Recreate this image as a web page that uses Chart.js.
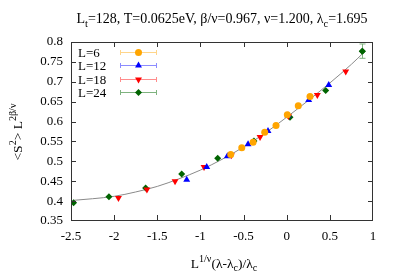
<!DOCTYPE html>
<html><head><meta charset="utf-8">
<script src="https://cdn.jsdelivr.net/npm/chart.js@4"></script>
<style>html,body{margin:0;padding:0;background:#fff}#w{width:399px;height:279px}</style>
</head><body><div id="w"><canvas id="c" width="399" height="279"></canvas></div>
<script>
const L6x = [-0.649,-0.521,-0.390,-0.255,-0.124,0.007,0.134,0.270];
const L6y = [0.517,0.534,0.548,0.573,0.590,0.617,0.640,0.663];
const L12x = [-1.159,-0.927,-0.688,-0.448,-0.217,0.015,0.255,0.487];
const L12y = [0.454,0.486,0.513,0.543,0.576,0.615,0.654,0.692];
const L18x = [-1.950,-1.620,-1.294,-0.958,-0.642,-0.309,0.020,0.355,0.684];
const L18y = [0.408,0.429,0.450,0.486,0.515,0.561,0.614,0.667,0.726];
const L24x = [-2.470,-2.060,-1.635,-1.217,-0.800,-0.380,0.038,0.452,0.876];
const L24y = [0.396,0.411,0.433,0.468,0.508,0.551,0.611,0.678,0.777];
const L24err = [0,0,0,0,0,0,0,0,0.018];
const fitX = [-2.47,-2.25,-2.0,-1.75,-1.5,-1.25,-1.0,-0.75,-0.5,-0.25,0,0.25,0.5,0.75,0.9];
const fitY = [0.402,0.406,0.412,0.423,0.437,0.456,0.478,0.505,0.536,0.571,0.611,0.653,0.697,0.744,0.775];
const xTicks = [-2.5,-2,-1.5,-1,-0.5,0,0.5,1];
const yTicks = [0.35,0.4,0.45,0.5,0.55,0.6,0.65,0.7,0.75,0.8];
const seriesNames = ['L=6','L=12','L=18','L=24'];

const FONT = '"Liberation Serif", "DejaVu Serif", serif';
const zip = (xs, ys) => xs.map((x, i) => ({x, y: ys[i]}));

const series = [
  {label: seriesNames[0], data: zip(L6x, L6y), color: '#ffa500', light: '#ffd58a', style: 'circle', r: 3.5, rot: 0},
  {label: seriesNames[1], data: zip(L12x, L12y), color: '#0000ff', light: '#8c8cff', style: 'triangle', r: 4, rot: 0},
  {label: seriesNames[2], data: zip(L18x, L18y), color: '#ff0000', light: '#ff8c8c', style: 'triangle', r: 4, rot: 180},
  {label: seriesNames[3], data: zip(L24x, L24y), color: '#006400', light: '#7fb37f', style: 'rectRot', r: 3.5, rot: 0, err: L24err},
];

function drawRich(ctx, parts, x, y, size, align) {
  const meas = parts.map(([t, m]) => {
    const fs = m ? size * 0.75 : size;
    ctx.font = fs + 'px ' + FONT;
    return ctx.measureText(t).width;
  });
  const total = meas.reduce((a, b) => a + b, 0);
  let cx = align === 'center' ? x - total / 2 : x;
  parts.forEach(([t, m], i) => {
    const fs = m ? size * 0.75 : size;
    ctx.font = fs + 'px ' + FONT;
    const dy = m === 'sup' ? -size * 0.42 : m === 'sub' ? size * 0.25 : 0;
    ctx.fillText(t, cx, y + dy);
    cx += meas[i];
  });
}

const deco = {
  id: 'deco',
  afterDraw(chart) {
    const {ctx, chartArea: a, scales: {x, y}} = chart;
    ctx.save();
    series.forEach((s) => {
      if (!s.err) return;
      ctx.strokeStyle = s.light; ctx.lineWidth = 1;
      s.data.forEach((p, i) => {
        const e = s.err[i]; if (!e) return;
        const px = Math.round(x.getPixelForValue(p.x)) + 0.5;
        const y1 = y.getPixelForValue(p.y - e), y2 = y.getPixelForValue(p.y + e);
        ctx.beginPath();
        ctx.moveTo(px, y1); ctx.lineTo(px, y2);
        ctx.moveTo(px - 3, y1); ctx.lineTo(px + 3, y1);
        ctx.moveTo(px - 3, y2); ctx.lineTo(px + 3, y2);
        ctx.stroke();
      });
      ctx.fillStyle = s.color;
      s.data.forEach((p, i) => {
        if (!s.err[i]) return;
        Chart.helpers.drawPoint(ctx, {pointStyle: s.style, radius: s.r, rotation: s.rot, borderWidth: 0},
          x.getPixelForValue(p.x), y.getPixelForValue(p.y));
      });
    });
    // frame
    const L = Math.round(a.left), R = Math.round(a.right) - 1, T = Math.round(a.top), B = Math.round(a.bottom) - 1;
    ctx.fillStyle = '#333';
    ctx.fillRect(L, T, R - L + 1, 1);
    ctx.fillRect(L, B, R - L + 1, 1);
    ctx.fillRect(L, T, 1, B - T + 1);
    ctx.fillRect(R, T, 1, B - T + 1);
    x.ticks.forEach(t => {
      const px = Math.round(x.getPixelForValue(t.value));
      const cx = Math.min(Math.max(px, L), R);
      ctx.fillRect(cx, B - 5, 1, 5);
      ctx.fillRect(cx, T, 1, 5);
    });
    y.ticks.forEach(t => {
      const py = Math.round(y.getPixelForValue(t.value));
      const cy = Math.min(Math.max(py, T), B);
      ctx.fillRect(L, cy, 5, 1);
      ctx.fillRect(R - 4, cy, 5, 1);
    });
    // legend
    ctx.textBaseline = 'middle'; ctx.textAlign = 'left';
    series.forEach((s, i) => {
      const ly = Math.round(52 + i * 13.3) + 0.5;
      ctx.font = '13px ' + FONT;
      ctx.fillStyle = '#000';
      ctx.fillText(s.label, 78, ly + 1);
      ctx.strokeStyle = s.light; ctx.lineWidth = 1;
      ctx.beginPath();
      ctx.moveTo(120, ly); ctx.lineTo(157, ly);
      ctx.moveTo(120.5, ly - 2.5); ctx.lineTo(120.5, ly + 2.5);
      ctx.moveTo(156.5, ly - 2.5); ctx.lineTo(156.5, ly + 2.5);
      ctx.stroke();
      ctx.fillStyle = s.color;
      Chart.helpers.drawPoint(ctx, {pointStyle: s.style, radius: s.r, rotation: s.rot, borderWidth: 0}, 138.5, ly);
    });
    // title
    ctx.fillStyle = '#000'; ctx.textBaseline = 'alphabetic'; ctx.textAlign = 'left';
    drawRich(ctx, [['L',''],['t','sub'],['=128, T=0.0625eV, \u03b2/\u03bd=0.967, \u03bd=1.200, \u03bb',''],['c','sub'],['=1.695','']], 222, 23, 14, 'center');
    // x title
    drawRich(ctx, [['L',''],['1/\u03bd','sup'],['(\u03bb-\u03bb',''],['c','sub'],[')/\u03bb',''],['c','sub']], 224, 268, 13.5, 'center');
    // y title
    ctx.translate(22, 132); ctx.rotate(-Math.PI / 2);
    drawRich(ctx, [['<S',''],['2','sup'],['> L',''],['2\u03b2/\u03bd','sup']], 0, 0, 13.5, 'center');
    ctx.restore();
  }
};

const datasets = series.map(s => ({
  label: s.label, data: s.data, showLine: false,
  pointStyle: s.style, pointRadius: s.r, pointRotation: s.rot,
  backgroundColor: s.color, borderColor: s.color, borderWidth: 0, order: 1
}));
datasets.unshift({label: 'fit', data: zip(fitX, fitY), showLine: true, pointRadius: 0,
  borderColor: '#8a8a8a', borderWidth: 1, cubicInterpolationMode: 'monotone', order: 2});

new Chart(document.getElementById('c'), {
  type: 'scatter',
  data: {datasets},
  options: {
    responsive: false, animation: false, devicePixelRatio: 1,
    layout: {padding: {top: 42, right: 26, left: 0, bottom: 0}},
    plugins: {legend: {display: false}, tooltip: {enabled: false}, title: {display: false}},
    scales: {
      x: {type: 'linear', min: -2.5, max: 1,
        afterBuildTicks: s => { s.ticks = xTicks.map(v => ({value: v})); },
        afterFit: s => { s.height = 58; },
        grid: {display: false, drawTicks: false}, border: {display: false},
        ticks: {padding: 8, color: '#000', font: {family: FONT, size: 13}, callback: v => String(v)}},
      y: {type: 'linear', min: 0.35, max: 0.8,
        afterBuildTicks: s => { s.ticks = yTicks.map(v => ({value: v})); },
        afterFit: s => { s.width = 71; },
        grid: {display: false, drawTicks: false}, border: {display: false},
        ticks: {padding: 8, color: '#000', font: {family: FONT, size: 13}, callback: v => String(+v.toFixed(2))}}
    }
  },
  plugins: [deco]
});
</script></body></html>
